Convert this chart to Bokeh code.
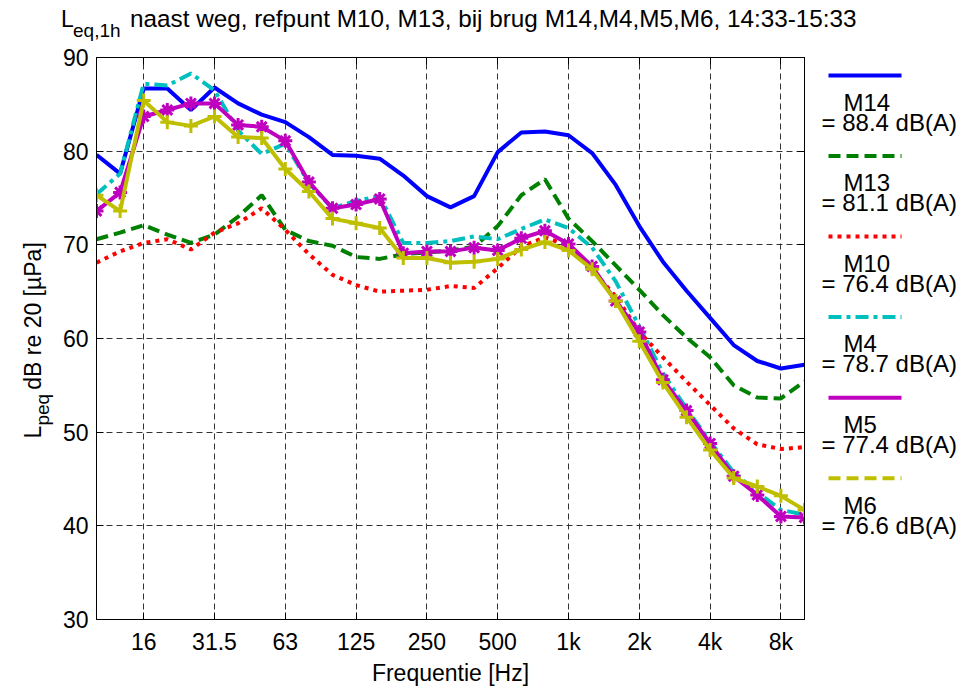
import math
from bokeh.plotting import figure
from bokeh.models import Range1d, FixedTicker, LinearAxis, Div
from bokeh.layouts import row, column
from bokeh.core.properties import value
from bokeh.embed import file_html
from bokeh.resources import INLINE

# ---------------- data ----------------
bands = ["10", "12.5", "16", "20", "25", "31.5", "40", "50", "63", "80", "100",
         "125", "160", "200", "250", "315", "400", "500", "630", "800", "1k",
         "1.25k", "1.6k", "2k", "2.5k", "3.15k", "4k", "5k", "6.3k", "8k", "10k"]
tick_labels = ["16", "31.5", "63", "125", "250", "500", "1k", "2k", "4k", "8k"]
y_ticks = [30, 40, 50, 60, 70, 80, 90]

series_names = ["M14", "M13", "M10", "M4", "M5", "M6"]
laeq_values = [88.4, 81.1, 76.4, 78.7, 77.4, 76.6]

m14 = [79.6, 77.6, 86.7, 86.7, 84.4, 86.8, 85.1, 83.9, 83.1, 81.5, 79.6,
       79.5, 79.2, 77.4, 75.2, 74.0, 75.2, 79.9, 82.0, 82.1, 81.7,
       79.8, 76.4, 72.0, 68.2, 65.1, 62.2, 59.3, 57.6, 56.8, 57.2]
m13 = [70.6, 71.3, 72.1, 71.1, 70.2, 71.1, 73.0, 75.3, 71.6, 70.4, 69.9,
       68.7, 68.5, 69.0, 69.2, 69.4, 69.8, 72.0, 75.3, 77.0, 72.8,
       70.4, 67.8, 65.2, 62.5, 60.1, 58.0, 55.0, 53.7, 53.6, 55.4]
m10 = [68.1, 69.3, 70.2, 70.6, 69.5, 71.3, 72.3, 73.9, 71.6, 69.0, 66.8,
       65.7, 65.0, 65.1, 65.2, 65.6, 65.4, 67.5, 69.8, 70.8, 69.9,
       67.3, 64.5, 60.7, 58.0, 55.4, 52.9, 50.4, 48.7, 48.2, 48.4]
m4 = [75.4, 77.6, 87.2, 87.0, 88.3, 86.5, 82.2, 79.7, 80.8, 76.6, 73.9,
      74.7, 75.2, 70.2, 70.2, 70.4, 70.9, 70.6, 71.7, 72.7, 71.8,
      69.7, 66.1, 61.3, 56.3, 52.5, 49.0, 45.7, 43.6, 41.7, 41.2]
m5 = [73.6, 75.6, 83.7, 84.4, 85.1, 85.1, 82.8, 82.6, 81.1, 76.7, 73.9,
      74.3, 74.9, 69.1, 69.3, 69.3, 69.7, 69.4, 70.7, 71.5, 70.1,
      67.7, 64.0, 60.7, 55.6, 52.3, 48.8, 45.3, 43.3, 41.0, 40.9]
m6 = [75.3, 73.6, 85.4, 83.1, 82.7, 83.7, 81.5, 81.4, 78.1, 75.7, 72.8,
      72.3, 71.8, 68.6, 68.6, 68.1, 68.2, 68.5, 69.5, 70.3, 69.4,
      67.4, 64.0, 59.7, 55.3, 51.6, 48.1, 45.1, 44.2, 43.2, 41.7]

series_values = [m14, m13, m10, m4, m5, m6]

title_sub = "eq,1h"
title_main = "naast weg, refpunt M10, M13, bij brug M14,M4,M5,M6, 14:33-15:33"
x_label = "Frequentie [Hz]"
y_label_sub = "peq"
y_label_main = "dB re 20 [µPa]"

# ---------------- style / layout ----------------
FONT = "Liberation Sans"
colors = ["#0000FF", "#008000", "#FF0000", "#00BFBF", "#BF00BF", "#BFBF00"]
plot_dash = ["solid", "12 6", "4 5", "13 5 4 5", "solid", "solid"]
legend_dash = ["solid", "12 6", "4 5", "13 5 4 5", "solid", "12 6"]
markers = [None, None, None, None, "asterisk", "cross"]

W, H = 970, 688
TITLE_H = 45            # height of the title strip
YLAB_W = 55             # width of the y-label strip
LEG_W = 160             # width of the legend strip
FL, FR, FT, FB = 96, 804, 57, 622   # plot frame edges (page pixels)

MAIN_W = W - YLAB_W - LEG_W
ROW_H = H - TITLE_H

x_idx = list(range(len(bands)))
tick_pos = [bands.index(t) for t in tick_labels]
XMAX = len(bands) - 1
YMIN, YMAX = y_ticks[0], y_ticks[-1]

# ---------------- title strip (HTML) ----------------
title_html = (
    '<div style="position:relative;width:%dpx;height:%dpx;font-family:\'%s\',sans-serif;'
    'color:#000;white-space:nowrap;">'
    '<span style="position:absolute;left:61px;top:8px;font-size:23px;line-height:23px;">L</span>'
    '<span style="position:absolute;left:73px;top:21px;font-size:19px;line-height:19px;">%s</span>'
    '<span style="position:absolute;left:130px;top:7px;font-size:24.3px;line-height:24.3px;">%s</span>'
    '</div>' % (W, TITLE_H, FONT, title_sub, title_main)
)
title_div = Div(text=title_html, width=W, height=TITLE_H, margin=0)

# ---------------- main plot ----------------
p = figure(width=MAIN_W, height=ROW_H, x_range=Range1d(0, XMAX), y_range=Range1d(YMIN, YMAX),
           output_backend="svg", toolbar_location=None,
           min_border_left=FL - YLAB_W, min_border_right=(W - LEG_W) - FR,
           min_border_top=FT - TITLE_H, min_border_bottom=H - FB)
p.background_fill_color = "white"
p.border_fill_color = "white"
p.outline_line_color = "black"
p.outline_line_width = 1

xt = FixedTicker(ticks=tick_pos)
yt = FixedTicker(ticks=y_ticks)
p.xaxis.ticker = xt
p.yaxis.ticker = yt
p.xaxis.major_label_overrides = {pos: lab for pos, lab in zip(tick_pos, tick_labels)}

for ax in [p.xaxis[0], p.yaxis[0]]:
    ax.axis_line_color = "black"
    ax.major_tick_in = 7
    ax.major_tick_out = 0
    ax.minor_tick_in = 0
    ax.minor_tick_out = 0
    ax.major_tick_line_color = "black"
    ax.major_label_text_font = FONT
    ax.major_label_text_font_size = "23px"
    ax.major_label_text_color = "black"
p.xaxis.major_label_standoff = 9
p.yaxis.major_label_standoff = 8
p.xaxis.axis_label = x_label
p.xaxis.axis_label_text_font = FONT
p.xaxis.axis_label_text_font_size = "23px"
p.xaxis.axis_label_text_font_style = "normal"
p.xaxis.axis_label_text_color = "black"
p.xaxis.axis_label_standoff = 2

for place, tk in [("right", yt), ("above", xt)]:
    ax = LinearAxis(ticker=tk, major_tick_in=7, major_tick_out=0, minor_tick_in=0,
                    minor_tick_out=0, major_label_text_font_size="1px",
                    major_label_text_color=None, major_label_standoff=0,
                    axis_line_color="black", major_tick_line_color="black")
    p.add_layout(ax, place)

for g in [p.xgrid[0], p.ygrid[0]]:
    g.grid_line_color = "#333333"
    g.grid_line_dash = "6 4"
    g.grid_line_width = 1
p.xgrid.ticker = xt
p.ygrid.ticker = yt

for vals, col, dash, mk in zip(series_values, colors, plot_dash, markers):
    p.line(x_idx, vals, line_color=col, line_width=4, line_dash=dash)
    if mk is not None:
        p.scatter(x_idx, vals, marker=mk, size=14, line_color=col, line_width=3,
                  fill_color=col)

# ---------------- y-label strip (frame aligned with the main frame) ----------------
ylab = figure(width=YLAB_W, height=ROW_H, x_range=Range1d(0, YLAB_W),
              y_range=Range1d(H - FB, H - FT), output_backend="svg",
              toolbar_location=None, x_axis_type=None, y_axis_type=None, min_border=0)
ylab.grid.visible = False
ylab.outline_line_color = None
ylab.background_fill_color = "white"
ylab.border_fill_color = "white"
ylab.text([32.5], [H - 440], text=["L"], angle=math.pi / 2, text_font=value(FONT),
          text_font_size="23px", text_baseline="alphabetic", text_align="left",
          text_color="black")
ylab.text([42.0], [H - 427], text=[y_label_sub], angle=math.pi / 2, text_font=value(FONT),
          text_font_size="19px", text_baseline="alphabetic", text_align="left",
          text_color="black")
ylab.text([32.5], [H - 391], text=[y_label_main], angle=math.pi / 2, text_font=value(FONT),
          text_font_size="23px", text_baseline="alphabetic", text_align="left",
          text_color="black")

# ---------------- legend strip (frame aligned with the main frame) ----------------
leg = figure(width=LEG_W, height=ROW_H, x_range=Range1d(W - LEG_W, W),
             y_range=Range1d(H - FB, H - FT), output_backend="svg", toolbar_location=None,
             x_axis_type=None, y_axis_type=None, min_border=0)
leg.grid.visible = False
leg.outline_line_color = None
leg.background_fill_color = "white"
leg.border_fill_color = "white"

LEG_Y0, LEG_DY = 75, 81
for k, (name, lv, col, dash) in enumerate(zip(series_names, laeq_values, colors, legend_dash)):
    yy = LEG_Y0 + k * LEG_DY
    leg.line([828, 901], [H - yy, H - yy], line_color=col, line_width=4, line_dash=dash)
    leg.text([843], [H - (yy + 27)], text=[name], text_font=value(FONT),
             text_font_size="24px", text_baseline="middle", text_align="left",
             text_color="black")
    leg.text([821], [H - (yy + 47)], text=["= %.1f dB(A)" % lv], text_font=value(FONT),
             text_font_size="24px", text_baseline="middle", text_align="left",
             text_color="black")

layout = column(title_div, row(ylab, p, leg, spacing=0), spacing=0)
open("out.html", "w").write(file_html(layout, INLINE))
